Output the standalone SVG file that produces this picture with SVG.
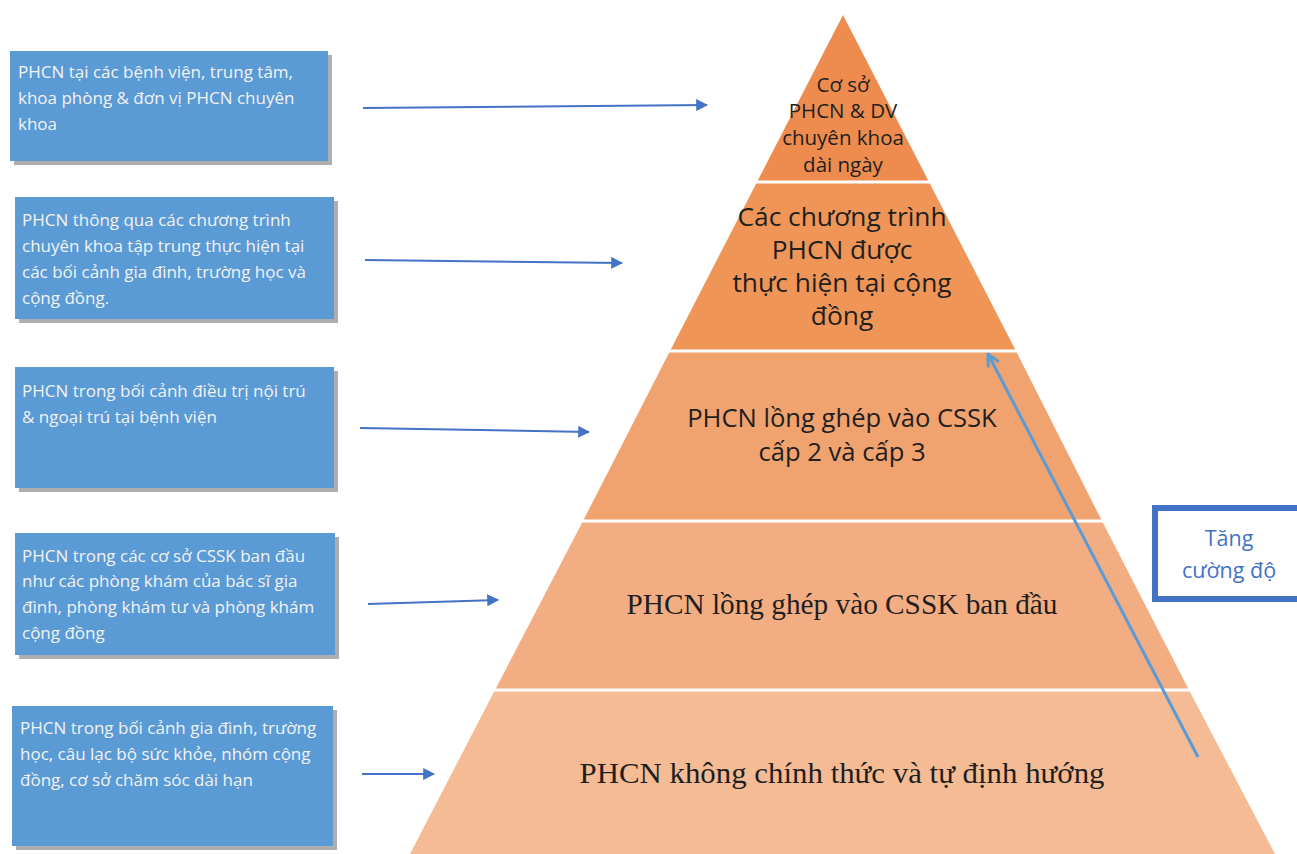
<svg xmlns="http://www.w3.org/2000/svg" width="1297" height="854" viewBox="0 0 1297 854">
<defs>
<style>
.box{fill:#5B9BD5;}
.shadow{fill:#9a9a9a;opacity:0.8;}
.bt{font-family:"Open Sans",Lato,sans-serif;font-size:17px;fill:#F2F2F2;}
.pt{font-family:"Open Sans",Lato,sans-serif;fill:#1f1f1f;text-anchor:middle;}
.ps{font-family:"Liberation Serif","DejaVu Serif",serif;fill:#1f1f1f;text-anchor:middle;font-size:29px;}
.sep{stroke:#ffffff;stroke-width:3;}
.arr{stroke:#4472C4;stroke-width:2;fill:none;marker-end:url(#ah);}
</style>
<marker id="ah" viewBox="0 0 10 10" refX="9" refY="5" markerWidth="6" markerHeight="6" orient="auto" markerUnits="strokeWidth">
<path d="M0,0 L10,5 L0,10 z" fill="#4472C4"/>
</marker>
<marker id="oh" viewBox="0 0 10 10" refX="9" refY="5" markerWidth="5" markerHeight="5" orient="auto" markerUnits="strokeWidth">
<path d="M1,1 L9,5 L1,9" fill="none" stroke="#5B9BD5" stroke-width="2"/>
</marker>
</defs>
<rect width="1297" height="854" fill="#ffffff"/>

<g id="pyramid">
<polygon points="843,15 929,182 757,182" fill="#ED8C4E"/>
<polygon points="757,182 929,182 1016,351 670,351" fill="#EF9557"/>
<polygon points="670,351 1016,351 1102,521 583,521" fill="#F0A26F"/>
<polygon points="583,521 1102,521 1189,690 495,690" fill="#F2AE82"/>
<polygon points="495,690 1189,690 1275,854 410,854" fill="#F4BB94"/>
<line class="sep" x1="740" y1="182" x2="950" y2="182"/>
<line class="sep" x1="650" y1="351" x2="1030" y2="351"/>
<line class="sep" x1="560" y1="521" x2="1120" y2="521"/>
<line class="sep" x1="480" y1="690" x2="1200" y2="690"/>
</g>

<g id="level1">
<text class="pt" font-size="20.5" x="843" y="92">Cơ sở</text>
<text class="pt" font-size="20.5" x="843" y="118">PHCN &amp; DV</text>
<text class="pt" font-size="20.5" x="843" y="145">chuyên khoa</text>
<text class="pt" font-size="20.5" x="843" y="172">dài ngày</text>
</g>
<g id="level2">
<text class="pt" font-size="26.3" x="842" y="226">Các chương trình</text>
<text class="pt" font-size="26.3" x="842" y="259">PHCN được</text>
<text class="pt" font-size="26.3" x="842" y="292">thực hiện tại cộng</text>
<text class="pt" font-size="26.3" x="842" y="325">đồng</text>
</g>
<g id="level3">
<text class="pt" font-size="25.6" x="842" y="427">PHCN lồng ghép vào CSSK</text>
<text class="pt" font-size="25.6" x="842" y="461">cấp 2 và cấp 3</text>
</g>
<g id="level4">
<text class="ps" x="842" y="614" textLength="431" lengthAdjust="spacingAndGlyphs">PHCN lồng ghép vào CSSK ban đầu</text>
</g>
<g id="level5">
<text class="ps" x="842" y="783" textLength="525" lengthAdjust="spacingAndGlyphs">PHCN không chính thức và tự định hướng</text>
</g>

<g id="box1">
<rect class="shadow" x="14" y="55" width="318" height="110"/>
<rect class="box" x="10" y="51" width="318" height="110"/>
<text class="bt" x="18" y="78">PHCN tại các bệnh viện, trung tâm,</text>
<text class="bt" x="18" y="104">khoa phòng &amp; đơn vị PHCN chuyên</text>
<text class="bt" x="18" y="130">khoa</text>
</g>
<g id="box2">
<rect class="shadow" x="19" y="201" width="319" height="122"/>
<rect class="box" x="15" y="197" width="319" height="122"/>
<text class="bt" x="22" y="226">PHCN thông qua các chương trình</text>
<text class="bt" x="22" y="252">chuyên khoa tập trung thực hiện tại</text>
<text class="bt" x="22" y="278">các bối cảnh gia đình, trường học và</text>
<text class="bt" x="22" y="304">cộng đồng.</text>
</g>
<g id="box3">
<rect class="shadow" x="19" y="371" width="319" height="121"/>
<rect class="box" x="15" y="367" width="319" height="121"/>
<text class="bt" x="22" y="397">PHCN trong bối cảnh điều trị nội trú</text>
<text class="bt" x="22" y="423">&amp; ngoại trú tại bệnh viện</text>
</g>
<g id="box4">
<rect class="shadow" x="19" y="537" width="320" height="122"/>
<rect class="box" x="15" y="533" width="320" height="122"/>
<text class="bt" x="22" y="562">PHCN trong các cơ sở CSSK ban đầu</text>
<text class="bt" x="22" y="587">như các phòng khám của bác sĩ gia</text>
<text class="bt" x="22" y="613">đình, phòng khám tư và phòng khám</text>
<text class="bt" x="22" y="639">cộng đồng</text>
</g>
<g id="box5">
<rect class="shadow" x="16" y="710" width="321" height="140"/>
<rect class="box" x="12" y="706" width="321" height="140"/>
<text class="bt" x="20" y="734">PHCN trong bối cảnh gia đình, trường</text>
<text class="bt" x="20" y="760">học, câu lạc bộ sức khỏe, nhóm cộng</text>
<text class="bt" x="20" y="786">đồng, cơ sở chăm sóc dài hạn</text>
</g>

<g id="intensity">
<rect x="1155" y="508" width="150" height="91" fill="#ffffff" stroke="#4472C4" stroke-width="6"/>
<text font-family="'Open Sans',Lato,sans-serif" font-size="21.5" fill="#4472C4" text-anchor="middle" x="1229" y="546">Tăng</text>
<text font-family="'Open Sans',Lato,sans-serif" font-size="21.5" fill="#4472C4" text-anchor="middle" x="1229" y="578">cường độ</text>
</g>

<g id="connectors">
<line class="arr" x1="363" y1="108" x2="707" y2="105"/>
<line class="arr" x1="365" y1="260" x2="622" y2="263"/>
<line class="arr" x1="360" y1="428" x2="589" y2="432"/>
<line class="arr" x1="368" y1="604" x2="498" y2="600"/>
<line class="arr" x1="362" y1="774" x2="434" y2="774"/>
<line x1="1198" y1="757" x2="988" y2="354" stroke="#5B9BD5" stroke-width="3" fill="none" marker-end="url(#oh)"/>
</g>
</svg>
